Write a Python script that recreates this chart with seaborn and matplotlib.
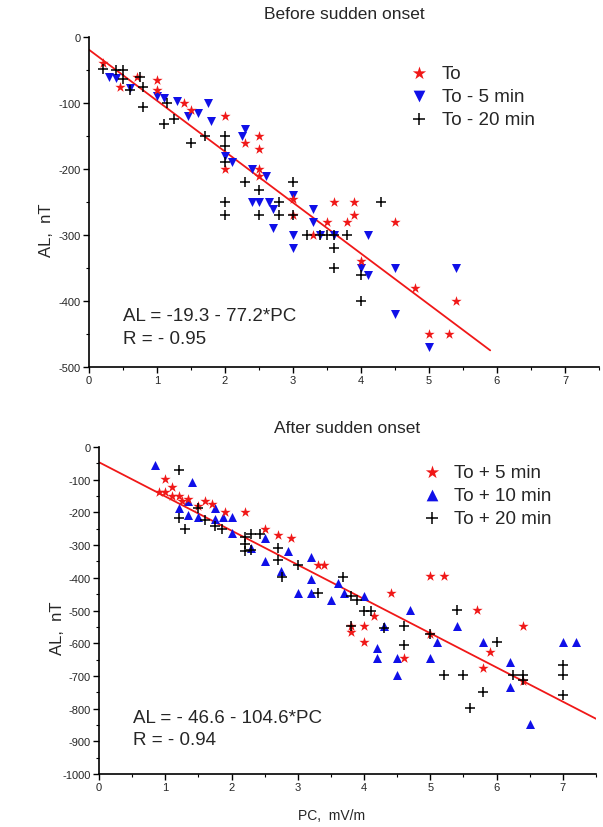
import numpy as np
import pandas as pd
import matplotlib
matplotlib.use("Agg")
import matplotlib.pyplot as plt
import seaborn as sns
from matplotlib.ticker import MultipleLocator

# ---------------- data: before sudden onset ----------------
to_pc = [0.2, 0.45, 0.7, 1.0, 1.0, 1.4, 1.5, 2.0, 2.3, 2.5, 2.5, 2.0, 2.5, 2.5, 3.0, 3.0,
         3.3, 3.5, 3.6, 3.8, 3.9, 3.9, 4.0, 4.5, 4.8, 5.0, 5.3, 5.4]
to_al = [-40, -75, -60, -65, -80, -100, -110, -120, -160, -150, -170, -200, -200, -210, -245, -270,
         -300, -280, -250, -280, -250, -270, -340, -280, -380, -450, -450, -400]

tm5_pc = [0.3, 0.4, 0.6, 1.0, 1.1, 1.3, 1.45, 1.6, 1.75, 1.8, 2.0, 2.1, 2.25, 2.3, 2.4, 2.4, 2.5,
          2.6, 2.65, 2.7, 2.7, 3.0, 3.0, 3.0, 3.3, 3.3, 3.4, 3.6, 4.0, 4.1, 4.1, 4.5, 4.5, 5.0, 5.4]
tm5_al = [-60, -62, -78, -90, -92, -97, -120, -115, -100, -128, -180, -190, -150, -140, -200, -250, -250,
          -210, -250, -260, -290, -240, -300, -320, -260, -280, -300, -300, -350, -300, -360, -350, -420, -470, -350]

tm20_pc = [0.2, 0.4, 0.5, 0.5, 0.75, 0.6, 0.8, 0.8, 1.1, 1.15, 1.25, 1.5, 1.7, 2.0, 2.0, 2.0, 2.3, 2.5,
           3.0, 2.0, 2.0, 2.5, 2.8, 2.8, 3.0, 3.2, 3.4, 3.5, 3.6, 3.8, 3.6, 3.6, 4.3, 4.0, 4.0]
tm20_al = [-48, -50, -50, -64, -60, -80, -76, -106, -132, -100, -124, -160, -150, -150, -165, -190, -220, -232,
           -220, -250, -270, -270, -250, -270, -270, -300, -300, -300, -300, -300, -320, -350, -250, -360, -400]

fit1_a, fit1_b, fit1_xmax = -19.3, -77.2, 5.9

# ---------------- data: after sudden onset ----------------
tp5_pc = [0.9, 1.0, 1.0, 1.1, 1.1, 1.2, 1.25, 1.35, 1.5, 1.6, 1.7, 1.9, 2.2, 2.5, 2.7, 2.9, 3.3, 3.4,
          3.8, 3.8, 4.0, 4.0, 4.15, 4.4, 4.6, 5.0, 5.0, 5.2, 5.7, 5.8, 5.9, 6.4, 6.4]
tp5_al = [-137, -98, -137, -122, -150, -150, -165, -160, -180, -165, -175, -200, -200, -250, -270, -278, -360, -360,
          -547, -566, -547, -597, -517, -447, -645, -395, -572, -395, -498, -676, -628, -548, -716]

tp10_pc = [0.85, 1.2, 1.35, 1.35, 1.4, 1.5, 1.75, 1.75, 1.87, 2.0, 2.0, 2.3, 2.5, 2.5, 2.75, 2.85, 3.0, 3.2,
           3.2, 3.2, 3.5, 3.6, 3.7, 4.0, 4.2, 4.2, 4.3, 4.5, 4.5, 4.7, 5.0, 5.1, 5.4, 5.8, 6.2, 6.2, 6.5, 7.0, 7.2]
tp10_al = [-55, -187, -164, -207, -106, -214, -187, -220, -214, -214, -262, -310, -277, -348, -378, -318, -446, -335,
           -404, -446, -467, -416, -446, -455, -616, -645, -548, -645, -697, -498, -645, -596, -546, -596, -657, -734, -847, -596, -596]

tp20_pc = [1.2, 1.2, 1.3, 1.5, 1.6, 1.75, 1.85, 2.2, 2.2, 2.2, 2.3, 2.3, 2.43, 2.7, 2.7, 2.76, 3.0, 3.3,
           3.68, 3.8, 3.9, 4.0, 4.1, 3.8, 4.3, 4.6, 4.6, 5.0, 5.2, 5.4, 5.5, 5.6, 5.8, 6.0, 6.25, 6.4, 6.4, 7.0, 7.0, 7.0]
tp20_al = [-69, -217, -250, -187, -224, -242, -250, -276, -297, -318, -316, -266, -266, -308, -345, -398, -361, -445,
           -398, -457, -468, -500, -500, -548, -555, -548, -606, -572, -697, -498, -697, -798, -749, -596, -697, -697, -714, -667, -697, -758]

fit2_a, fit2_b, fit2_xmax = -46.6, -104.6, 7.5

x_ticks = [0, 1, 2, 3, 4, 5, 6, 7]
y_ticks_top = [0, -100, -200, -300, -400, -500]
y_ticks_bot = [0, -100, -200, -300, -400, -500, -600, -700, -800, -900, -1000]

# ---------------- figure ----------------
sns.set_style("white")
plt.rcParams['font.family'] = ['Liberation Sans', 'DejaVu Sans']
plt.rcParams['axes.unicode_minus'] = False

W, H = 603, 828
fig = plt.figure(figsize=(W / 100, H / 100), dpi=100)

def px_axes(l, r, t, b):
    return fig.add_axes([l / W, 1 - b / H, (r - l) / W, (b - t) / H])

ax1 = px_axes(89, 599, 38, 368)
ax2 = px_axes(99, 596, 448, 775)

RED = "#f01818"
BLUE = "#1010e8"
BLACK = "#000000"
LEG_FS = 13.5
ANN_FS = 13.5

def style(ax, ylim, yticks):
    ax.set_xlim(0, 7.5)
    ax.set_ylim(*ylim)
    ax.set_xticks(x_ticks)
    ax.set_yticks(yticks)
    ax.xaxis.set_minor_locator(MultipleLocator(0.5))
    ax.yaxis.set_minor_locator(MultipleLocator(50))
    for s in ["top", "right"]:
        ax.spines[s].set_visible(False)
    for s in ["left", "bottom"]:
        ax.spines[s].set_color("black")
        ax.spines[s].set_linewidth(1.2)
    ax.tick_params(axis="both", which="major", direction="out", length=4, width=1,
                   labelsize=8, color="black", pad=2, left=True, bottom=True)
    ax.tick_params(axis="both", which="minor", direction="out", length=2.5, width=0.8,
                   color="black", left=True, bottom=True)
    ax.grid(False)

def legend(ax, x, y):
    ax.legend(loc="upper left", bbox_to_anchor=(x, y), frameon=False, fontsize=LEG_FS,
              handlelength=1.0, handletextpad=0.7, labelspacing=0.3, borderaxespad=0,
              borderpad=0, markerscale=1.3)

# ---- top panel ----
sns.lineplot(x=[0, fit1_xmax], y=[fit1_a, fit1_a + fit1_b * fit1_xmax], ax=ax1,
             color=RED, linewidth=1.3, zorder=1)
sns.scatterplot(x=to_pc, y=to_al, ax=ax1, marker="*", color=RED, s=60, linewidth=0, zorder=3, label="To")
sns.scatterplot(x=tm5_pc, y=tm5_al, ax=ax1, marker="v", color=BLUE, s=42, linewidth=0, zorder=2, label="To - 5 min")
sns.scatterplot(x=tm20_pc, y=tm20_al, ax=ax1, marker="+", color=BLACK, s=48, linewidth=1.1, zorder=4, label="To - 20 min")
style(ax1, (-500, 0), y_ticks_top)
ax1.set_ylabel("AL,  nT", fontsize=12)
ax1.yaxis.set_label_coords(-0.0686, 0.418)
ax1.set_xlabel("")
ax1.set_title("Before sudden onset", fontsize=12.5, pad=14)
legend(ax1, 0.629, 0.915)
ax1.text(0.067, 0.155, "AL = -19.3 - 77.2*PC", transform=ax1.transAxes,
         fontsize=ANN_FS, va="center", ha="left")
ax1.text(0.067, 0.085, "R = - 0.95", transform=ax1.transAxes,
         fontsize=ANN_FS, va="center", ha="left")

# ---- bottom panel ----
sns.lineplot(x=[0, fit2_xmax], y=[fit2_a, fit2_a + fit2_b * fit2_xmax], ax=ax2,
             color=RED, linewidth=1.3, zorder=1)
sns.scatterplot(x=tp5_pc, y=tp5_al, ax=ax2, marker="*", color=RED, s=60, linewidth=0, zorder=3, label="To + 5 min")
sns.scatterplot(x=tp10_pc, y=tp10_al, ax=ax2, marker="^", color=BLUE, s=42, linewidth=0, zorder=2, label="To + 10 min")
sns.scatterplot(x=tp20_pc, y=tp20_al, ax=ax2, marker="+", color=BLACK, s=48, linewidth=1.1, zorder=4, label="To + 20 min")
style(ax2, (-1000, 0), y_ticks_bot)
ax2.set_ylabel("AL,  nT", fontsize=12)
ax2.yaxis.set_label_coords(-0.068, 0.45)
ax2.set_xlabel("PC,  mV/m", fontsize=10)
ax2.xaxis.set_label_coords(0.467, -0.104)
ax2.set_title("After sudden onset", fontsize=12.5, pad=11)
legend(ax2, 0.651, 0.948)
ax2.text(0.068, 0.174, "AL = - 46.6 - 104.6*PC", transform=ax2.transAxes,
         fontsize=ANN_FS, va="center", ha="left")
ax2.text(0.068, 0.107, "R = - 0.94", transform=ax2.transAxes,
         fontsize=ANN_FS, va="center", ha="left")

fig.savefig("out.png", dpi=100, facecolor="white")
